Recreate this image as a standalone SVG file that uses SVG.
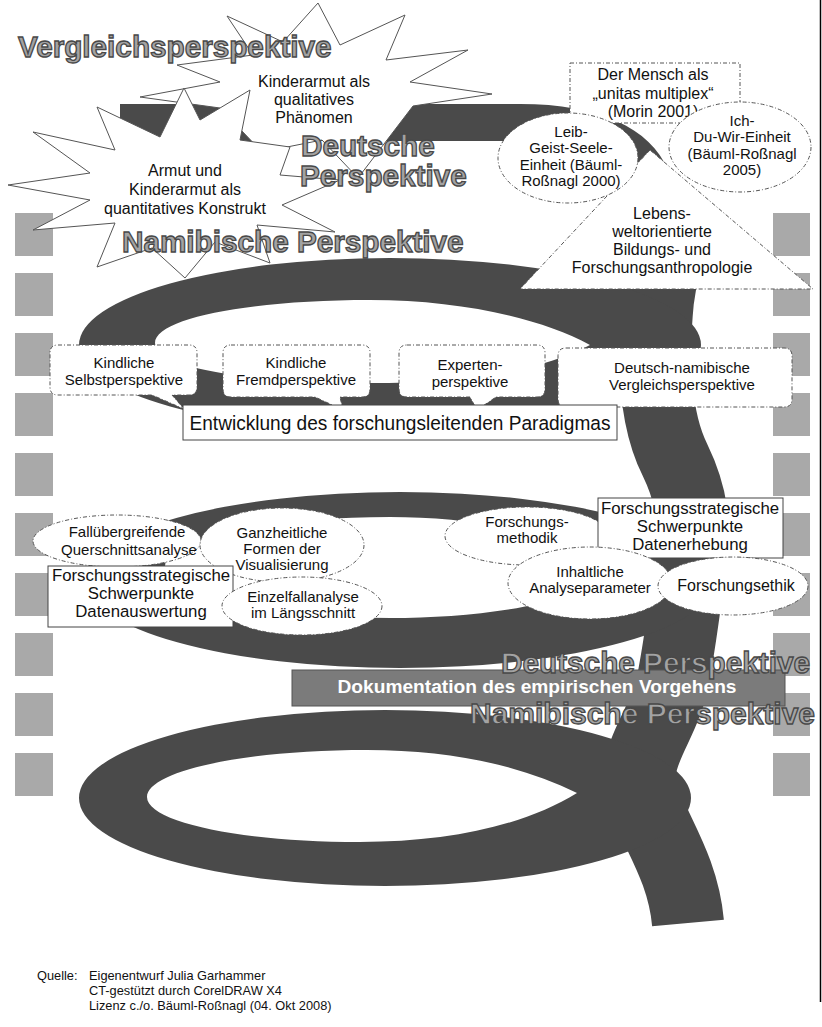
<svg xmlns="http://www.w3.org/2000/svg" width="822" height="1027" viewBox="0 0 822 1027">
<style>
.band{fill:#4a4a4a}
.bandS{fill:none;stroke:#4a4a4a;stroke-linecap:butt}
.sq{fill:#a9a9a9}
.dd{fill:#fff;stroke:#555;stroke-width:1;stroke-dasharray:4 2 1 2}
.burst{fill:#fff;stroke:#555;stroke-width:1}
.box{fill:#fff;stroke:#444;stroke-width:1}
text{font-family:"Liberation Sans",Arial,sans-serif;fill:#111}
.c{text-anchor:middle}
.t15{font-size:15px}
.t16{font-size:16px}
.t17{font-size:16.8px}
.ot{font-weight:bold;font-size:29.7px;fill:#a3a3a3;stroke:#484848;stroke-width:1.3}
</style>
<rect width="822" height="1027" fill="#fff"/>
<g id="squares">
<rect class="sq" x="15" y="213" width="38" height="43"/><rect class="sq" x="15" y="273" width="38" height="43"/>
<rect class="sq" x="15" y="333" width="38" height="43"/><rect class="sq" x="15" y="393" width="38" height="43"/>
<rect class="sq" x="15" y="453" width="38" height="43"/><rect class="sq" x="15" y="513" width="38" height="43"/>
<rect class="sq" x="15" y="573" width="38" height="43"/><rect class="sq" x="15" y="633" width="38" height="43"/>
<rect class="sq" x="15" y="693" width="38" height="43"/><rect class="sq" x="15" y="753" width="38" height="43"/>
<rect class="sq" x="773" y="213" width="37" height="43"/><rect class="sq" x="773" y="273" width="37" height="43"/>
<rect class="sq" x="773" y="333" width="37" height="43"/><rect class="sq" x="773" y="393" width="37" height="43"/>
<rect class="sq" x="773" y="453" width="37" height="43"/><rect class="sq" x="773" y="513" width="37" height="43"/>
<rect class="sq" x="773" y="573" width="37" height="43"/><rect class="sq" x="773" y="633" width="37" height="43"/>
<rect class="sq" x="773" y="693" width="37" height="43"/><rect class="sq" x="773" y="753" width="37" height="43"/>
</g>
<line x1="820.5" y1="0" x2="820.5" y2="1002" stroke="#000" stroke-width="1.5"/>
<g id="spiral">
<path class="band" d="M120,104 L520,104 C600,104 650,128 668,170 L680,215 L644,215 C640,180 610,142 540,141 L120,141 Z"/>
<path class="bandS" stroke-width="72" d="M662,212 C668,240 662,275 658,300 C652,360 655,420 675,460 C692,495 696,525 690,565 C685,605 680,645 672,685 C664,720 640,748 640,775 C640,815 682,855 688,923"/>
<path class="band" fill-rule="evenodd" d="M79,345 A311,87 0 1 0 701,345 A311,87 0 1 0 79,345 Z M590,345 C540,318 460,300 370,300 C250,300 155,318 155,343 C155,368 250,383 370,383 C460,383 540,372 590,345 Z"/>
<path class="band" fill-rule="evenodd" d="M85,580 A315,88 0 1 0 715,580 A315,88 0 1 0 85,580 Z M628,572 C570,535 480,517 390,517 C260,517 165,540 165,567 C165,595 260,618 390,618 C480,618 570,605 628,572 Z"/>
<path class="band" fill-rule="evenodd" d="M79,798 A306,88 0 1 0 691,798 A306,88 0 1 0 79,798 Z M577,793 C520,765 450,750 367,750 C240,750 147,772 147,797 C147,822 240,842 360,842 C450,842 525,825 577,793 Z"/>
</g>
<g id="burst1">
<polygon class="burst" points="318,3 340,45 405,15 386,60 468,50 410,82 492,94 413,106 358,178 322,140 262,152 220,108 140,97 220,82 177,65 253,55 227,16 283,42"/>
</g>
<g id="burst2">
<polygon class="burst" points="97,107 160,137 184,88 200,120 250,90 240,140 290,147 280,175 340,180 282,205 335,232 257,225 270,263 215,242 185,278 152,248 97,267 115,223 33,230 90,200 8,185 90,173 33,132 115,150"/>
</g>
<g id="titles">
<text class="ot" x="18" y="57">Vergleichsperspektive</text>
<text class="ot" x="301" y="156">Deutsche</text>
<text class="ot" x="300" y="186">Perspektive</text>
<text class="ot" x="122" y="252">Namibische Perspektive</text>
</g>
<g id="burst-texts">
<text class="c t16" x="314" y="87">Kinderarmut als</text>
<text class="c t16" x="314" y="105">qualitatives</text>
<text class="c t16" x="314" y="123">Phänomen</text>
<text class="c t16" x="185" y="176">Armut und</text>
<text class="c t16" x="185" y="195">Kinderarmut als</text>
<text class="c t16" x="185" y="214">quantitatives Konstrukt</text>
</g>
<g id="triangle">
<polygon class="dd" points="650,150 520,289 813,289"/>
<text class="c t16" x="662" y="219">Lebens-</text>
<text class="c t16" x="662" y="237">weltorientierte</text>
<text class="c t16" x="662" y="255">Bildungs- und</text>
<text class="c t16" x="662" y="273">Forschungsanthropologie</text>
</g>
<g id="mensch">
<rect class="dd" x="570" y="63" width="170" height="60"/>
<text class="c t16" x="653" y="80">Der Mensch als</text>
<text class="c t16" x="653" y="99">„unitas multiplex“</text>
<text class="c t16" x="653" y="117">(Morin 2001)</text>
</g>
<g id="leib">
<ellipse class="dd" cx="568" cy="158" rx="70" ry="45"/>
<text class="c t15" x="571" y="137">Leib-</text>
<text class="c t15" x="571" y="153">Geist-Seele-</text>
<text class="c t15" x="571" y="170">Einheit (Bäuml-</text>
<text class="c t15" x="571" y="186">Roßnagl 2000)</text>
</g>
<g id="ich">
<ellipse class="dd" cx="740" cy="147" rx="71" ry="45"/>
<text class="c t15" x="742" y="126">Ich-</text>
<text class="c t15" x="742" y="142">Du-Wir-Einheit</text>
<text class="c t15" x="742" y="159">(Bäuml-Roßnagl</text>
<text class="c t15" x="742" y="175">2005)</text>
</g>
<g id="bubble1">
<path class="dd" d="M58,345 H189 Q197,345 197,353 V387 Q197,395 189,395 H172 L184,409 L152,395 H58 Q50,395 50,387 V353 Q50,345 58,345 Z"/>
<text class="c t15" x="124" y="368">Kindliche</text>
<text class="c t15" x="124" y="385">Selbstperspektive</text>
</g>
<g id="bubble2">
<path class="dd" d="M231,345 H362 Q370,345 370,353 V389 Q370,397 362,397 H340 L343,410 L315,397 H231 Q223,397 223,389 V353 Q223,345 231,345 Z"/>
<text class="c t15" x="296" y="368">Kindliche</text>
<text class="c t15" x="296" y="385">Fremdperspektive</text>
</g>
<g id="bubble3">
<path class="dd" d="M407,345 H537 Q545,345 545,353 V389 Q545,397 537,397 H496 L477,410 L470,397 H407 Q399,397 399,389 V353 Q399,345 407,345 Z"/>
<text class="c t15" x="470" y="370">Experten-</text>
<text class="c t15" x="470" y="387">perspektive</text>
</g>
<g id="bubble4">
<path class="dd" d="M566,348 H784 Q792,348 792,356 V399 Q792,407 784,407 H616 L592,413 L600,407 H566 Q558,407 558,399 V356 Q558,348 566,348 Z"/>
<text class="c t15" x="682" y="373">Deutsch-namibische</text>
<text class="c t15" x="682" y="390">Vergleichsperspektive</text>
</g>
<g id="paradigma">
<rect class="box" x="183" y="405" width="434" height="35"/>
<text class="c" x="400" y="430" font-size="20.5" textLength="421" lengthAdjust="spacingAndGlyphs">Entwicklung des forschungsleitenden Paradigmas</text>
</g>
<g id="fall">
<ellipse class="dd" cx="117" cy="541" rx="84" ry="26"/>
<text class="c t15" x="127" y="537">Fallübergreifende</text>
<text class="c t15" x="129" y="555">Querschnittsanalyse</text>
</g>
<g id="ganz">
<ellipse class="dd" cx="282" cy="545" rx="82" ry="37"/>
<text class="c t15" x="282" y="538">Ganzheitliche</text>
<text class="c t15" x="282" y="554">Formen der</text>
<text class="c t15" x="282" y="570">Visualisierung</text>
</g>
<g id="auswertung">
<rect class="box" x="48" y="566" width="185" height="61"/>
<text class="c t17" x="141" y="581">Forschungsstrategische</text>
<text class="c t17" x="141" y="599">Schwerpunkte</text>
<text class="c t17" x="141" y="617">Datenauswertung</text>
</g>
<g id="einzel">
<ellipse class="dd" cx="302" cy="606" rx="80" ry="29"/>
<text class="c t15" x="303" y="602">Einzelfallanalyse</text>
<text class="c t15" x="303" y="618">im Längsschnitt</text>
</g>
<g id="methodik">
<ellipse class="dd" cx="527" cy="536" rx="82" ry="29"/>
<text class="c t15" x="527" y="527">Forschungs-</text>
<text class="c t15" x="527" y="543">methodik</text>
</g>
<g id="erhebung">
<rect class="box" x="598" y="498" width="185" height="60"/>
<text class="c t17" x="690" y="514">Forschungsstrategische</text>
<text class="c t17" x="690" y="532">Schwerpunkte</text>
<text class="c t17" x="690" y="550">Datenerhebung</text>
</g>
<g id="inhalt">
<ellipse class="dd" cx="590" cy="583" rx="82" ry="36"/>
<text class="c t15" x="590" y="577">Inhaltliche</text>
<text class="c t15" x="590" y="593">Analyseparameter</text>
</g>
<g id="ethik">
<ellipse class="dd" cx="733" cy="586" rx="75" ry="29"/>
<text class="c t16" x="736" y="591">Forschungsethik</text>
</g>
<g id="doku">
<rect x="292" y="670" width="493" height="36" fill="#7b7b7b" stroke="#555" stroke-width="1"/>
<text class="c" x="537" y="693" font-size="18" font-weight="bold" style="fill:#fff" textLength="399" lengthAdjust="spacingAndGlyphs">Dokumentation des empirischen Vorgehens</text>
<text class="ot" x="501" y="673" textLength="309" lengthAdjust="spacingAndGlyphs">Deutsche Perspektive</text>
<text class="ot" x="470" y="724" textLength="345" lengthAdjust="spacingAndGlyphs">Namibische Perspektive</text>
</g>
<g id="quelle" font-size="12.8">
<text x="37" y="980">Quelle:</text>
<text x="89" y="980">Eigenentwurf Julia Garhammer</text>
<text x="89" y="995">CT-gestützt durch CorelDRAW X4</text>
<text x="89" y="1010">Lizenz c./o. Bäuml-Roßnagl (04. Okt 2008)</text>
</g>
</svg>
